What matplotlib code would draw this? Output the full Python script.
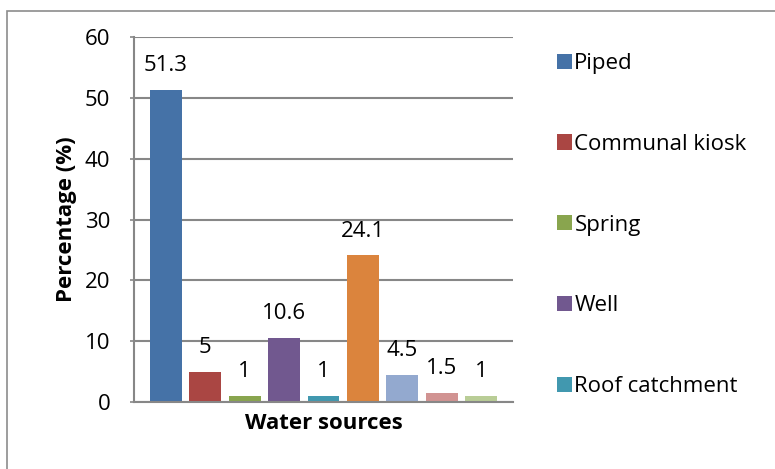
"""Water source bar chart (percentage of households)."""

import matplotlib

matplotlib.use("Agg")

import matplotlib.pyplot as plt
from matplotlib.patches import Rectangle, Patch

# Data
sources = ["Piped", "Communal kiosk", "Spring", "Well", "Roof catchment",
           "Source 6", "Source 7", "Source 8", "Source 9"]
percentages = [51.3, 5, 1, 10.6, 1, 24.1, 4.5, 1.5, 1]
value_labels = ["51.3", "5", "1", "10.6", "1", "24.1", "4.5", "1.5", "1"]
legend_count = 5  # only the first five entries fit in the visible legend
y_ticks = [0, 10, 20, 30, 40, 50, 60]

BAR_COLORS = ["#4572A7", "#AA4643", "#89A54E", "#71588F", "#4198AF",
              "#DB843D", "#93A9CF", "#D19392", "#B9CD96"]
GRID_COLOR = "#878787"
FONT = ["Open Sans", "DejaVu Sans"]
FS = 16

plt.rcParams["font.family"] = FONT

fig = plt.figure(figsize=(7.75, 4.69), dpi=100)

# outer chart-area frame (cut off at right and bottom in the original)
fig.patches.append(
    Rectangle((7 / 775, -0.1), 1.2, 1 - 11 / 469 + 0.1,
              transform=fig.transFigure, fill=False,
              edgecolor="#8C8C8C", linewidth=1.2)
)

ax = fig.add_axes([134 / 775, 1 - 402 / 469, 379 / 775, 365 / 469])

x = list(range(len(percentages)))
bars = ax.bar(x, percentages, width=0.81, color=BAR_COLORS, zorder=3)

for bar, text in zip(bars, value_labels):
    ax.annotate(
        text,
        xy=(bar.get_x() + bar.get_width() / 2, bar.get_height()),
        xytext=(0, 17.5),
        textcoords="offset points",
        ha="center",
        va="center",
        fontsize=FS,
        color="#000000",
    )

ax.set_xlim(-0.8, 8.8)
ax.set_ylim(0, 60)
ax.set_yticks(y_ticks)
ax.set_xticks([])
ax.tick_params(axis="y", length=3, width=1.2, color=GRID_COLOR,
               pad=14, labelsize=FS)
ax.yaxis.grid(True, color=GRID_COLOR, linewidth=1.5, zorder=0)

for side in ("top", "right"):
    ax.spines[side].set_visible(False)
for side in ("left", "bottom"):
    ax.spines[side].set_color(GRID_COLOR)
    ax.spines[side].set_linewidth(1.5)
ax.spines["bottom"].set_zorder(4)

ax.set_ylabel("Percentage (%)", fontsize=FS, fontweight="bold", labelpad=6)
ax.set_xlabel("Water sources", fontsize=FS, fontweight="bold", labelpad=8)

handles = [Patch(facecolor=c) for c in BAR_COLORS[:legend_count]]
fig.legend(
    handles,
    sources[:legend_count],
    loc="upper left",
    bbox_to_anchor=(557 / 775, 1 - 53 / 469),
    frameon=False,
    fontsize=FS,
    handlelength=0.68,
    handleheight=0.68,
    handletextpad=0.1,
    labelspacing=2.69,
    borderaxespad=0,
    borderpad=0,
)

fig.savefig("out.png", dpi=100)
